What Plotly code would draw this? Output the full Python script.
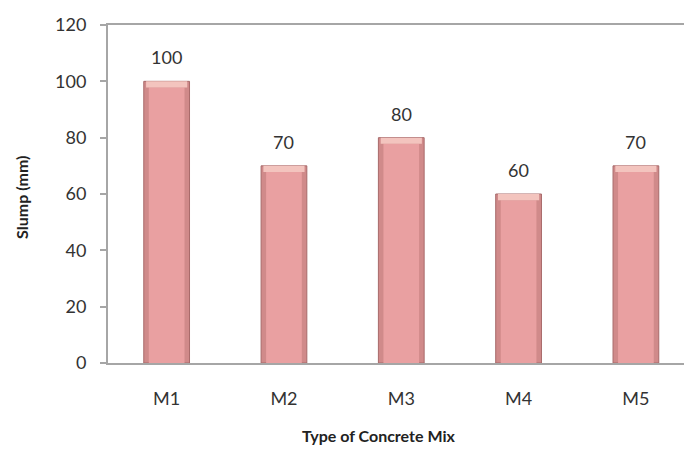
import plotly.graph_objects as go

# Slump test results per concrete mix
mixes = ["M1", "M2", "M3", "M4", "M5"]
slump_mm = [100, 70, 80, 60, 70]
y_ticks = [0, 20, 40, 60, 80, 100, 120]

FONT = "Lato, 'Open Sans', sans-serif"
bar_w = 0.39
cap = 2.2  # height of the lighter bevel band at the top of each bar (mm units)

fig = go.Figure()

# outer shell of each column (darker rim)
fig.add_trace(go.Bar(
    x=mixes, y=slump_mm, width=bar_w,
    marker=dict(color="#d08a8a", line=dict(color="#a86a6a", width=1)),
    hoverinfo="skip", showlegend=False,
))
# lighter body of the column
fig.add_trace(go.Bar(
    x=mixes, y=[v - cap for v in slump_mm], width=bar_w * 0.78,
    marker=dict(color="#e9a0a1", line=dict(width=0)),
    hoverinfo="skip", showlegend=False,
))
# bevelled top band
fig.add_trace(go.Bar(
    x=mixes, y=[cap] * len(slump_mm), base=[v - cap for v in slump_mm],
    width=bar_w * 0.9,
    marker=dict(color="#f3c4be", line=dict(width=0)),
    hoverinfo="skip", showlegend=False,
))

annotations = [
    dict(x=m, y=v, text=str(v), showarrow=False, yshift=24,
         font=dict(family=FONT, size=18, color="#333333"))
    for m, v in zip(mixes, slump_mm)
]
annotations += [
    dict(text="<b>Type of Concrete Mix</b>", xref="paper", yref="paper",
         x=0.47, y=0, yshift=-84, showarrow=False, xanchor="center",
         font=dict(family=FONT, size=16, color="#222222")),
    dict(text="<b>Slump (mm)</b>", xref="paper", yref="paper",
         x=0, xshift=-98, y=0.49, showarrow=False, textangle=-90,
         font=dict(family=FONT, size=16, color="#222222")),
]

fig.update_layout(
    width=684, height=450,
    margin=dict(l=108, r=0, t=25, b=87),
    paper_bgcolor="white", plot_bgcolor="white",
    barmode="overlay",
    showlegend=False,
    annotations=annotations,
    font=dict(family=FONT, color="#333333"),
)
fig.update_xaxes(
    range=[-0.5, 4.41], showgrid=False, ticks="",
    showline=True, linecolor="#a6a6a6", linewidth=2, mirror=True,
    tickfont=dict(size=18, color="#333333"), ticklabelstandoff=18,
)
fig.update_yaxes(
    range=[0, 120], tickvals=y_ticks, showgrid=False,
    ticks="outside", ticklen=6, tickcolor="#a6a6a6", tickwidth=1.5,
    showline=True, linecolor="#a6a6a6", linewidth=2,
    tickfont=dict(size=18, color="#333333"), ticklabelstandoff=10,
    zeroline=False,
)

fig.write_html("out.html")
